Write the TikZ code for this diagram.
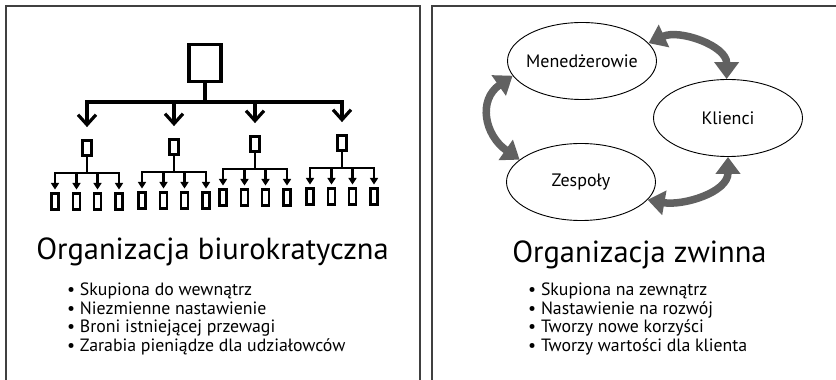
\documentclass[tikz,border=0pt]{standalone}
\usepackage{fontspec}
\setmainfont{PT Sans}
\usetikzlibrary{calc, shapes, arrows.meta}

\begin{document}
\begin{tikzpicture}[x=1pt, y=1pt,
frame/.style = {% panel borders
    draw=black!75, line width=1.6pt,
            },
bigbox/.style  = {draw, line width=3.2pt, inner sep=0pt,
                  minimum width=32pt, minimum height=37pt},
midbox/.style  = {draw, line width=2.8pt, inner sep=0pt,
                  minimum width=9.5pt, minimum height=15pt},
leafbox/.style = {draw, line width=2.8pt, inner sep=0pt,
                  minimum width=7pt, minimum height=16pt},
barb/.style = {line width=3.2pt, -{Straight Barb[length=10pt,width=18pt]},
               shorten >=12pt},
tri/.style  = {line width=2.6pt, -{Triangle[length=6.5pt,width=8pt]},
               shorten >=3pt},
cyc/.style  = {line width=7.5pt, draw=black!62,
               {Triangle[length=17pt,width=24pt]}-{Triangle[length=17pt,width=24pt]}},
role/.style = {ellipse, draw, line width=0.9pt, inner sep=0pt,
               minimum width=149pt, minimum height=77pt,
               label={[font=\fontsize{18}{21}\selectfont]center:#1}},
title/.style = {anchor=base, inner sep=0pt, font=\fontsize{30.5}{34}\selectfont},
item/.style  = {anchor=base west, inner sep=0pt, font=\fontsize{17.8}{20}\selectfont},
                        ]
\useasboundingbox (0,0) rectangle (836,380);
% panels
\draw[frame] (6,0) -- (6,374) -- (420,374) -- (420,0);
\draw[frame] (432,0) -- (432,374) -- (836,374);
% tree
\node[bigbox] (top) at (205,317) {};
\coordinate (hub) at ($(top.south)+(0,-19)$);
\draw[line width=3.2pt] (top.south) -- (hub);
\foreach \x/\y [count=\i] in {87/232, 174/233, 255/236, 342/237}
    {\node[midbox] (m\i) at (\x,\y) {};
     \draw[barb] (hub) -| (m\i.north);}
% leaves
\foreach \i in {1,...,4}{
    \coordinate (j\i) at ($(m\i.south)+(0,-16)$);
    \draw[line width=2.6pt] (m\i.south) -- (j\i);
    \foreach \dx [count=\k] in {-32,-10.5,10.5,32}{
        \node[leafbox] (b\i\k) at ($(m\i.south)+(\dx,-45)$) {};
        \draw[tri] (j\i) -| (b\i\k.north);}
                        }
% cycle
\node[role=Menedżerowie] (men) at (582,319) {};
\node[role=Klienci]      (kli) at (728,262) {};
\node[role=Zespoły]      (zes) at (581,198) {};
\draw[cyc] (men.15)  to[out=25,in=90] (kli.92);
\draw[cyc] (men.192) to[out=215,in=145,looseness=1.3] (zes.160);
\draw[cyc] (zes.-15) to[out=-10,in=-90] (kli.-90);
% titles
\node[title] (tl) at (212.5,120) {Organizacja biurokratyczna};
\node[title] (tr) at (639.5,117) {Organizacja zwinna};
% bullet lists
\foreach \t [count=\i] in {Skupiona do wewnątrz, Niezmienne nastawienie,
        Broni istniejącej przewagi, Zarabia pieniądze dla udziałowców}
    {\node[item] (l\i) at (67,{84-18.5*(\i-1)}) {• \t};}
\foreach \t [count=\i] in {Skupiona na zewnątrz, Nastawienie na rozwój,
        Tworzy nowe korzyści, Tworzy wartości dla klienta}
    {\node[item] (r\i) at (528,{84-18.5*(\i-1)}) {• \t};}
\end{tikzpicture}
\end{document}
